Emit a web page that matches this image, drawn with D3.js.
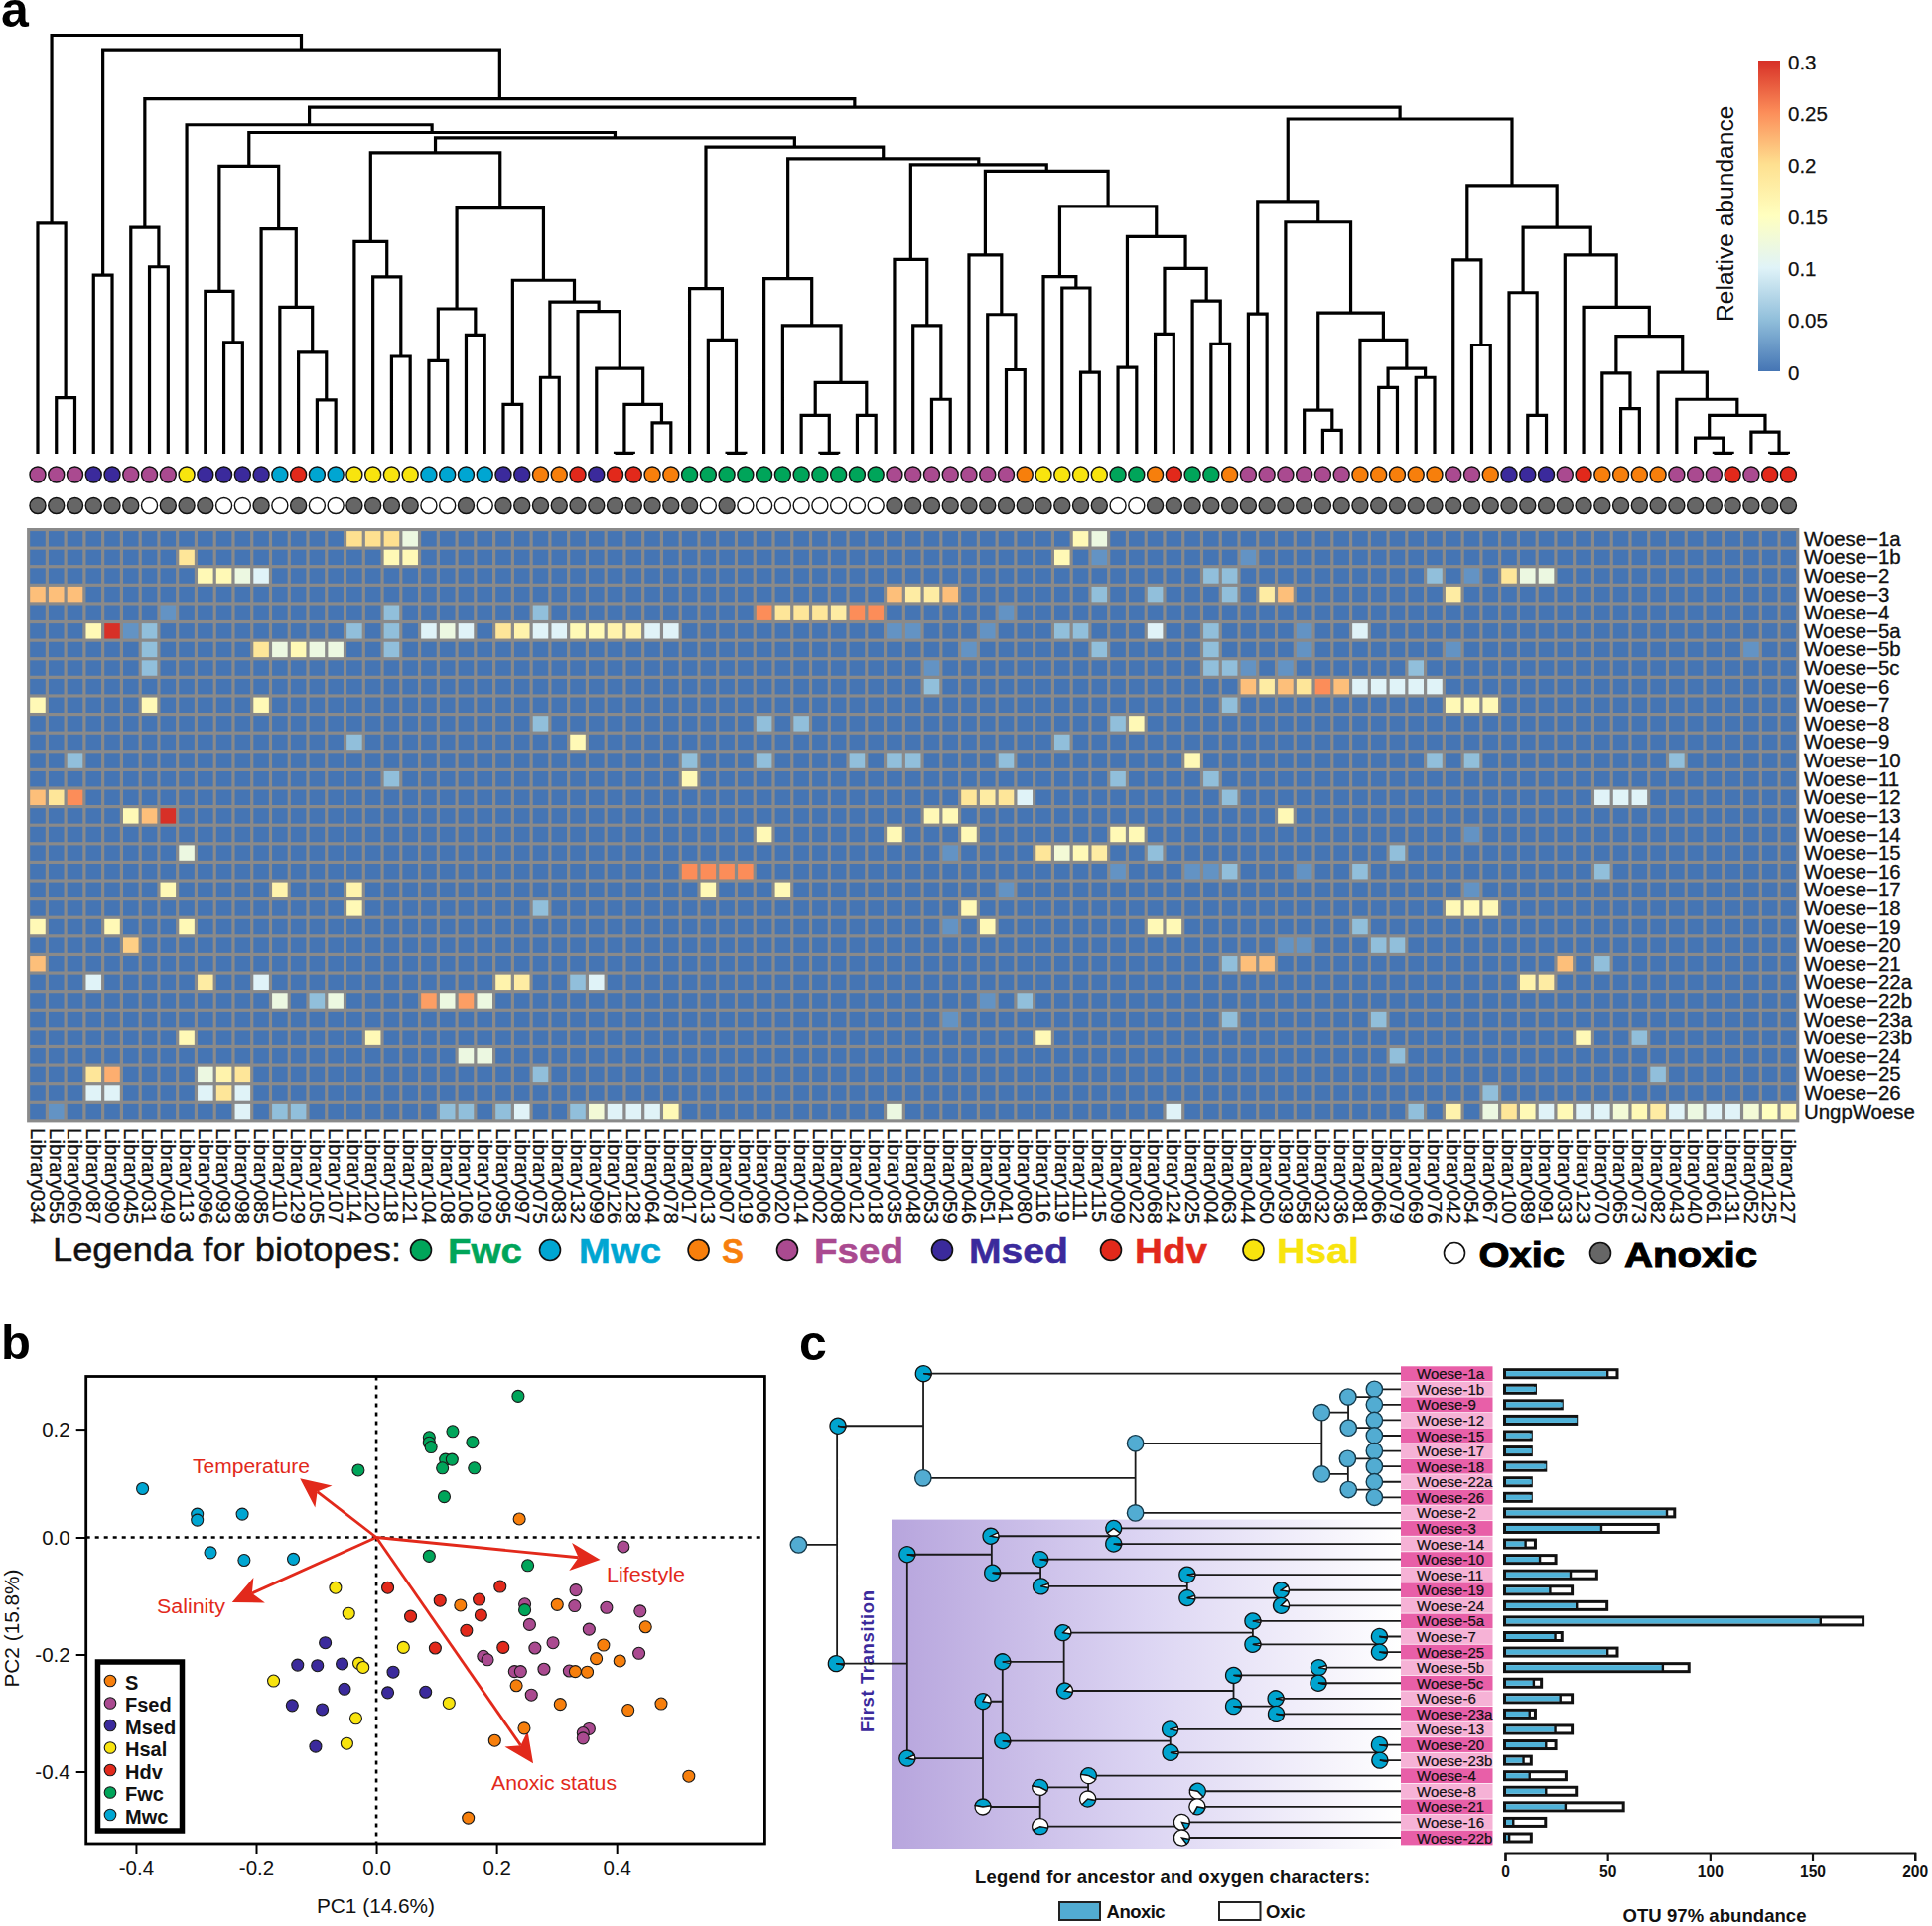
<!DOCTYPE html>
<html><head><meta charset="utf-8">
<script src="https://cdn.jsdelivr.net/npm/d3@7"></script>
<style>html,body{margin:0;padding:0;background:#fff}svg{display:block}text{font-family:"Liberation Sans",Arial,sans-serif}</style>
</head><body><svg id="c" width="1946" height="1940"></svg>
<script>
// ---------- panel a data ----------
const libraries = ["034","055","060","087","090","045","031","049","113","096","093","098","085","110","129","105","107","114","120","118","121","104","108","106","109","095","097","075","083","132","099","126","128","064","078","017","013","007","019","006","020","014","002","008","012","018","035","048","053","059","046","051","041","080","116","119","111","115","009","022","068","124","025","004","063","044","050","039","058","032","036","081","066","079","069","076","042","054","067","100","089","091","033","123","070","065","073","082","043","040","061","131","052","125","127"].map(s=>"Library"+s);
const heatRows = ["1a","1b","2","3","4","5a","5b","5c","6","7","8","9","10","11","12","13","14","15","16","17","18","19","20","21","22a","22b","23a","23b","24","25","26"].map(s=>"Woese\u2212"+s).concat(["UngpWoese"]);
const biotopeCodes = "FFFMMFFFHMMMMWDWWHHHHWWWWMMSSDMDDSSGGGGGGGGGGGFFFFFFFSHHHHGGSDGGSFFFFFFSSSSSFFSMMMFDSSSSFFFDFDD".split("");
const oxicLibraries = [6,10,11,13,15,16,21,22,24,36,38,39,40,41,42,43,44,45,58,59];
// non-background cells per heat row: [library index, relative abundance]
const heatHits = [
 [[17,.2],[18,.2],[19,.2],[20,.12],[56,.16],[57,.12]],
 [[8,.19],[19,.16],[20,.16],[55,.16],[57,.02],[65,.02]],
 [[9,.16],[10,.16],[11,.12],[12,.1],[63,.05],[64,.05],[75,.05],[77,.02],[79,.19],[80,.12],[81,.12]],
 [[0,.22],[1,.22],[2,.22],[46,.22],[47,.18],[48,.18],[49,.22],[57,.05],[60,.05],[64,.05],[66,.18],[67,.22],[76,.18]],
 [[7,.02],[19,.05],[27,.05],[39,.25],[40,.19],[41,.19],[42,.19],[43,.18],[44,.25],[45,.25],[52,.02]],
 [[3,.16],[4,.3],[5,.02],[6,.05],[17,.05],[19,.05],[21,.1],[22,.12],[23,.1],[25,.19],[26,.17],[27,.1],[28,.1],[29,.16],[30,.16],[31,.17],[32,.17],[33,.1],[34,.1],[46,.02],[47,.02],[51,.02],[55,.05],[56,.05],[60,.1],[63,.05],[68,.02],[71,.1]],
 [[6,.05],[12,.19],[13,.12],[14,.16],[15,.12],[16,.12],[19,.05],[50,.02],[57,.05],[63,.05],[68,.02],[76,.02],[92,.02]],
 [[6,.05],[48,.02],[63,.05],[64,.05],[65,.02],[67,.02],[74,.05]],
 [[48,.05],[65,.22],[66,.18],[67,.22],[68,.19],[69,.25],[70,.22],[71,.1],[72,.1],[73,.1],[74,.1],[75,.1]],
 [[0,.16],[6,.16],[12,.16],[64,.05],[76,.16],[77,.16],[78,.16]],
 [[27,.05],[39,.05],[41,.05],[58,.05],[59,.16]],
 [[17,.05],[29,.16],[55,.05]],
 [[2,.05],[35,.05],[39,.05],[44,.05],[46,.05],[47,.05],[52,.05],[62,.16],[75,.05],[77,.05],[88,.05]],
 [[19,.05],[35,.16],[58,.05],[63,.05]],
 [[0,.22],[1,.19],[2,.25],[50,.19],[51,.18],[52,.19],[53,.1],[64,.05],[84,.1],[85,.1],[86,.1]],
 [[5,.16],[6,.22],[7,.3],[48,.16],[49,.16],[67,.16]],
 [[39,.16],[46,.16],[50,.16],[58,.16],[59,.16],[77,.02]],
 [[8,.12],[49,.02],[54,.19],[55,.13],[56,.16],[57,.18],[60,.05],[73,.05]],
 [[35,.25],[36,.25],[37,.25],[38,.25],[58,.02],[62,.02],[63,.02],[64,.05],[68,.02],[71,.05],[84,.05]],
 [[7,.16],[13,.17],[17,.17],[36,.16],[40,.16],[52,.02],[77,.02]],
 [[17,.16],[27,.05],[50,.16],[76,.16],[77,.16],[78,.16]],
 [[0,.16],[4,.16],[8,.16],[49,.02],[51,.16],[60,.16],[61,.16],[71,.05]],
 [[5,.21],[67,.02],[68,.02],[72,.05],[73,.05]],
 [[0,.22],[64,.05],[65,.22],[66,.22],[82,.22],[84,.05]],
 [[3,.1],[9,.18],[12,.1],[25,.17],[26,.18],[29,.05],[30,.1],[80,.17],[81,.18]],
 [[13,.12],[15,.05],[16,.12],[21,.24],[22,.12],[23,.24],[24,.12],[51,.02],[53,.05]],
 [[49,.02],[64,.05],[72,.05]],
 [[8,.16],[18,.16],[54,.16],[83,.16],[86,.05]],
 [[23,.12],[24,.12],[73,.05]],
 [[3,.19],[4,.23],[9,.12],[10,.17],[11,.19],[27,.05],[87,.05]],
 [[3,.1],[4,.1],[9,.1],[10,.19],[11,.1],[78,.05]],
 [[1,.02],[11,.1],[13,.05],[14,.05],[22,.05],[23,.05],[25,.05],[26,.1],[29,.05],[30,.13],[31,.1],[32,.1],[33,.1],[34,.16],[46,.12],[61,.1],[74,.05],[76,.17],[78,.12],[79,.19],[80,.16],[81,.1],[82,.16],[83,.1],[84,.1],[85,.13],[86,.16],[87,.18],[88,.1],[89,.12],[90,.1],[91,.1],[92,.13],[93,.15],[94,.16]]
];
const colorTicks = [0,.05,.1,.15,.2,.25,.3];
const colorRamp  = ["#4575b4","#91bfdb","#e0f3f8","#ffffbf","#fee090","#fc8d59","#d73027"];
// dendrogram: [merge height, left, right]; integers are library indices
const dendroLeftA = [687,0,[167,1,2]];
const dendroD = [857,[484,9,[332,10,11]],[670,12,[437,13,[302,14,[160,15,16]]]]];
const dendroE = [897,[632,17,[527,18,[290,19,20]]],[732,[432,[277,21,22],[354,23,24]],[517,[147,25,26],[452,[227,27,28],[424,29,[254,30,[147,[2,31,32],[92,33,34]]]]]]]];
const dendroF = [914,[492,35,[339,36,[2,37,38]]],[879,[522,39,[382,40,[212,[114,41,[2,42,43]],[114,44,45]]]],[861,[579,46,[382,47,[162,48,49]]],[842,[592,50,[415,51,[250,52,53]]],[737,[528,54,[494,55,[242,56,57]]],[647,[257,58,59],[552,[357,60,61],[455,62,[327,63,64]]]]]]]]];
const dendroJ = [997,[752,[417,65,66],[690,67,[420,[130,68,[70,69,70]],[339,71,[254,[197,72,73],[227,74,75]]]]]],[799,[577,76,[324,77,78]],[674,[480,79,[114,80,81]],[592,82,[437,83,[350,[240,84,[134,85,86]],[242,87,[162,88,[114,[47,89,[2,90,91]],[65,92,[2,93,94]]]]]]]]]]];
const dendroRoot = [1247,dendroLeftA,[1204,[532,3,4],[1057,[674,5,[557,6,7]],[1032,[980,8,[957,dendroD,[941,dendroE,dendroF]]],dendroJ]]]];
const biotopeColor = {G:"#00a55a",W:"#00a6d2",S:"#f77f0c",F:"#aa4a90",M:"#3b2a9c",D:"#e2291b",H:"#f8e40e"};
const biotopeLegend = [["G","Fwc"],["W","Mwc"],["S","S"],["F","Fsed"],["M","Msed"],["D","Hdv"],["H","Hsal"]];

// ---------- panel b data: [PC1, PC2] ----------
const pcaFwc = [[.236,.261],[.127,.196],[.088,.185],[.088,.175],[.091,.167],[.16,.176],[.115,.144],[.126,.144],[.11,.128],[.163,.128],[.113,.075],[-.03,.124],[.088,-.032],[.252,-.048],[.247,-.124]];
const pcaMwc = [[-.389,.09],[-.298,.043],[-.298,.032],[-.223,.043],[-.276,-.026],[-.22,-.039],[-.138,-.037]];
const pcaS = [[.238,.034],[.14,-.116],[.301,-.115],[.448,-.153],[.378,-.184],[.366,-.207],[.405,-.211],[.331,-.229],[.351,-.23],[.233,-.253],[.306,-.285],[.419,-.295],[.474,-.284],[.246,-.326],[.197,-.347],[.52,-.408],[.153,-.479]];
const pcaFsed = [[.411,-.016],[.332,-.09],[.247,-.114],[.33,-.117],[.383,-.12],[.439,-.126],[.255,-.149],[.354,-.157],[.294,-.18],[.264,-.189],[.437,-.198],[.178,-.203],[.185,-.209],[.23,-.229],[.24,-.229],[.279,-.225],[.321,-.228],[.258,-.269],[.354,-.327],[.344,-.334],[.344,-.343]];
const pcaMsed = [[-.085,-.18],[-.131,-.218],[-.098,-.219],[-.057,-.216],[.028,-.23],[-.053,-.259],[.019,-.265],[.082,-.264],[-.14,-.287],[-.09,-.294],[-.101,-.357]];
const pcaHsal = [[-.068,-.086],[-.046,-.13],[.045,-.188],[-.029,-.215],[-.022,-.222],[-.171,-.245],[.121,-.283],[-.034,-.309],[-.049,-.352]];
const pcaHdv = [[.019,-.086],[.106,-.108],[.206,-.084],[.171,-.106],[.057,-.135],[.174,-.133],[.15,-.159],[.098,-.189],[.211,-.188]];
const pcaSeries = [["F",pcaFsed],["S",pcaS],["M",pcaMsed],["H",pcaHsal],["D",pcaHdv],["G",pcaFwc],["W",pcaMwc]];
const pcaLegend = [["S","S"],["F","Fsed"],["M","Msed"],["H","Hsal"],["D","Hdv"],["G","Fwc"],["W","Mwc"]];
const loadings = [["Temperature",-.127,.109],["Lifestyle",.3725,-.038],["Salinity",-.24,-.111],["Anoxic status",.261,-.386]];
const xTicksB = [-.4,-.2,0,.2,.4], yTicksB = [-.4,-.2,0,.2];

// ---------- panel c data ----------
const treeRows = ["1a","1b","9","12","15","17","18","22a","26","2","3","14","10","11","19","24","5a","7","25","5b","5c","6","23a","13","20","23b","4","8","21","16","22b"].map(s=>"Woese-"+s);
const otuAnoxic = [50,15,28,35,13,13,20,13,13,79,47,10,17,32,22,35,154,24.5,50,77,14,27,12,24.5,20,9,12,20,29.5,4,2];
const otuTotal  = [55,15,28,35,13,13,20,13,13,83,75,15,25,45,33,50,175,28,55,90,18,33,15,33,25,13,30,35,58,20,13];
const otuTicks = [0,50,100,150,200];
// tree node: [depth, anoxic share, tip row or [children], pie start deg, position along the children]
const treeUpper = [152,.99,[[357,.98,0],[356,1,[[864,1,[[1310,1,[[1373,1,[[1436,1,1],[1436,1,2]]],[1374,1,[[1436,1,3],[1436,1,4]]]]],[1310,1,[[1372,1,[[1436,1,5],[1436,1,6]]],[1374,1,[[1436,1,7],[1436,1,8]]]]]]],[864,1,9]]]]];
const treeLowerA = [318,.98,[[518,.9,[[812,.7,10,234],[812,.97,11]]],[522,.97,[[636,.97,12],[638,.92,[[988,.95,13],[988,.93,[[1213,.88,14],[1213,.85,15]]]]]]]]];
const treeLowerB = [318,.9,[[499,.8,[[546,.96,[[691,.85,[[1145,.95,16],[1145,.95,[[1448,.98,17],[1448,.98,18]]]]],[695,.85,[[1099,.97,[[1303,.93,19],[1302,.97,20]]],[1099,.98,[[1200,.95,21],[1201,.98,22]]]]]]],[546,.97,[[947,.93,23],[948,.95,[[1448,.98,24],[1449,.98,25]]]]]]],[499,.45,[[636,.55,[[752,.55,26,-80],[750,.35,[[1013,.6,27,-80],[1012,.3,28]]]],-80],[636,.4,[[975,.15,29],[975,.12,30]],100,.27]],-80]],100,.54];
const treeRoot = [58,1,[treeUpper,[148,.98,[treeLowerA,treeLowerB],100,.535]]];

// ---------- drawing ----------
const svg = d3.select("#c");
const defs = svg.append("defs");
function txt(x,y,s,o={}){
  const t = svg.append("text").attr("x",x).attr("y",y).text(s)
    .attr("font-size",o.size||20).attr("fill",o.fill||"#000").attr("font-weight",o.bold?"bold":"normal")
    .attr("text-anchor",o.anchor||"start");
  if(o.len) t.attr("textLength",o.len).attr("lengthAdjust",o.adjust||"spacing");
  if(o.rot) t.attr("transform",`rotate(${o.rot} ${x} ${y})`);
  if(o.stroke) t.attr("stroke",o.stroke===true?(o.fill||"#000"):o.stroke).attr("stroke-width",o.sw||.6);
  return t;
}
// panel letters
txt(1,27,"a",{size:50,bold:true});
txt(1,1369,"b",{size:49,bold:true});
txt(805,1370,"c",{size:50,bold:true});

// ---- heatmap ----
const xH = d3.scaleBand().domain(libraries).range([28.6,1810.8]);
const yH = d3.scaleBand().domain(heatRows).range([533.5,1128.9]);
const colorH = d3.scaleLinear().domain(colorTicks).range(colorRamp).clamp(true);
const gridG = svg.append("g");
gridG.append("rect").attr("x",xH.range()[0]-1.5).attr("y",yH.range()[0]-1.5)
  .attr("width",xH.range()[1]-xH.range()[0]+3).attr("height",yH.range()[1]-yH.range()[0]+3).attr("fill","#8a8a8a");
const heatCells = heatRows.flatMap((r,j)=>{
  const hit = new Map(heatHits[j]);
  return libraries.map((l,i)=>({r,l,v:hit.get(i)||0}));
});
gridG.selectAll(".cell").data(heatCells).join("rect").attr("class","cell")
  .attr("x",d=>xH(d.l)+1.6).attr("y",d=>yH(d.r)+1.6)
  .attr("width",xH.bandwidth()-3.2).attr("height",yH.bandwidth()-3.2)
  .attr("fill",d=>colorH(d.v));
heatRows.forEach(r=>txt(1817,yH(r)+yH.bandwidth()/2+7,r,{size:20.4,fill:"#111",stroke:true,sw:.35}));
libraries.forEach(l=>{
  const x = xH(l)+xH.bandwidth()/2-7.2;
  txt(x,1136,l,{size:20.5,rot:90,fill:"#111",stroke:true,sw:.3});
});

// ---- dendrogram ----
const yD = d3.scaleLinear().domain([0,1247]).range([457,35.5]);
const leafX = i=>xH(libraries[i])+xH.bandwidth()/2;
const dPath = d3.path();
function walk(n){
  if(typeof n==="number") return {x:leafX(n),h:0};
  const a=walk(n[1]), b=walk(n[2]), h=n[0];
  dPath.moveTo(a.x,yD(a.h)); dPath.lineTo(a.x,yD(h)); dPath.lineTo(b.x,yD(h)); dPath.lineTo(b.x,yD(b.h));
  return {x:(a.x+b.x)/2,h};
}
walk(dendroRoot);
svg.append("path").attr("d",dPath.toString()).attr("fill","none").attr("stroke","#000").attr("stroke-width",3.2).attr("stroke-linejoin","miter");

// ---- annotation dots ----
const dotG = svg.append("g").attr("stroke","#111").attr("stroke-width",1.4);
dotG.selectAll(".b").data(biotopeCodes).join("circle").attr("class","b")
  .attr("cx",(d,i)=>leafX(i)).attr("cy",478).attr("r",8).attr("fill",d=>biotopeColor[d]);
dotG.selectAll(".o").data(libraries).join("circle").attr("class","o")
  .attr("cx",(d,i)=>leafX(i)).attr("cy",509.5).attr("r",8).attr("fill",(d,i)=>oxicLibraries.includes(i)?"#ffffff":"#666666");

// ---- colour bar ----
const yC = d3.scaleLinear().domain([0,.3]).range([374,61]);
const gradC = defs.append("linearGradient").attr("id","cb").attr("x1",0).attr("x2",0).attr("y1",1).attr("y2",0);
colorTicks.forEach((t,i)=>gradC.append("stop").attr("offset",t/.3).attr("stop-color",colorRamp[i]));
svg.append("rect").attr("x",1771).attr("y",61).attr("width",22).attr("height",313).attr("fill","url(#cb)");
const axC = svg.append("g").attr("transform","translate(1793,1.5)")
  .call(d3.axisRight(yC).tickValues(colorTicks).tickSize(0).tickPadding(8).tickFormat(d=>String(d)));
axC.select(".domain").remove();
axC.selectAll("text").attr("font-size",20.5).attr("fill","#111").attr("font-family","Liberation Sans").attr("stroke","#111").attr("stroke-width",.25);
txt(1746,324,"Relative abundance",{size:24.6,rot:-90,fill:"#111"});

// ---- biotope legend ----
const legendY = 1259;
txt(53,1270,"Legenda for biotopes:",{size:33,len:351,adjust:"spacingAndGlyphs",fill:"#111",stroke:true,sw:.4});
const legendBoxes = {G:[424,451,75],W:[554,583,83],S:[703.6,727,22],F:[793,820,90],M:[949,976,100],D:[1119,1143,73],H:[1262.5,1286,83]};
biotopeLegend.forEach(([k,name])=>{
  const [cx,tx,len]=legendBoxes[k];
  svg.append("circle").attr("cx",cx).attr("cy",legendY).attr("r",10.5).attr("fill",biotopeColor[k]).attr("stroke","#111").attr("stroke-width",1.6);
  txt(tx,1272,name,{size:35,bold:true,fill:biotopeColor[k],len,adjust:"spacingAndGlyphs",stroke:true,sw:.5});
});
svg.append("circle").attr("cx",1465).attr("cy",1262).attr("r",10.5).attr("fill","#fff").attr("stroke","#111").attr("stroke-width",1.6);
txt(1489.5,1276,"Oxic",{size:35,bold:true,len:86.5,adjust:"spacingAndGlyphs",stroke:true,sw:1});
svg.append("circle").attr("cx",1612).attr("cy",1262).attr("r",10.5).attr("fill","#666").attr("stroke","#111").attr("stroke-width",1.6);
txt(1636,1276,"Anoxic",{size:35,bold:true,len:134,adjust:"spacingAndGlyphs",stroke:true,sw:1});

// ---- panel b ----
const xB = d3.scaleLinear().domain([-.483,.6465]).range([86.7,770.4]);
const yB = d3.scaleLinear().domain([-.4,0,.2]).range([1784.5,1548.5,1439.6]);
const yTop=1386.5, yBot=1857;
const dashG = svg.append("g").attr("stroke","#000").attr("stroke-width",2.6).attr("stroke-dasharray","4 5");
dashG.append("line").attr("x1",86.7).attr("x2",770.4).attr("y1",yB(0)).attr("y2",yB(0));
dashG.append("line").attr("x1",xB(0)).attr("x2",xB(0)).attr("y1",yTop).attr("y2",yBot);
svg.append("rect").attr("x",86.7).attr("y",yTop).attr("width",683.7).attr("height",yBot-yTop).attr("fill","none").attr("stroke","#000").attr("stroke-width",2.8);
const fmtB = d=>d3.format(".1f")(d).replace("\u2212","-");
const axBx = svg.append("g").attr("transform",`translate(0,${yBot})`)
  .call(d3.axisBottom(xB).tickValues(xTicksB).tickSize(10).tickPadding(7).tickFormat(fmtB));
const axBy = svg.append("g").attr("transform","translate(86.7,0)")
  .call(d3.axisLeft(yB).tickValues(yTicksB).tickSize(10).tickPadding(6).tickFormat(fmtB));
[axBx,axBy].forEach(a=>{a.select(".domain").remove();a.selectAll("line").attr("stroke","#000").attr("stroke-width",2);
  a.selectAll("text").attr("font-size",20.5).attr("fill","#111").attr("font-family","Liberation Sans");});
txt(378.5,1927,"PC1 (14.6%)",{size:20.8,anchor:"middle",fill:"#111"});
txt(19,1640,"PC2 (15.8%)",{size:20.8,anchor:"middle",rot:-90,fill:"#111"});
const redC = "#e2291b";
loadings.forEach(([name,px,py])=>{
  const x0=xB(0),y0=yB(0),x1=xB(px),y1=yB(py);
  const L=Math.hypot(x1-x0,y1-y0),ux=(x1-x0)/L,uy=(y1-y0)/L,nx=-uy,ny=ux;
  const hl=30,hw=14,notch=22;
  svg.append("line").attr("x1",x0).attr("y1",y0).attr("x2",x1-ux*notch).attr("y2",y1-uy*notch).attr("stroke",redC).attr("stroke-width",2.8);
  const p=d3.path();
  p.moveTo(x1,y1);
  p.lineTo(x1-ux*hl+nx*hw,y1-uy*hl+ny*hw);
  p.lineTo(x1-ux*notch,y1-uy*notch);
  p.lineTo(x1-ux*hl-nx*hw,y1-uy*hl-ny*hw);
  p.closePath();
  svg.append("path").attr("d",p.toString()).attr("fill",redC);
});
const loadLabels = {"Temperature":[194,1484,118],"Lifestyle":[611,1593,79],"Salinity":[158,1625,69],"Anoxic status":[495,1803,126]};
Object.entries(loadLabels).forEach(([s,[x,y,len]])=>txt(x,y,s,{size:19.5,fill:redC,len,adjust:"spacingAndGlyphs"}));
const ptG = svg.append("g").attr("stroke","#1a1a1a").attr("stroke-width",1.1);
pcaSeries.forEach(([k,pts])=>{
  ptG.append("g").selectAll("circle").data(pts).join("circle")
    .attr("cx",d=>xB(d[0])).attr("cy",d=>yB(d[1])).attr("r",6).attr("fill",biotopeColor[k]);
});
svg.append("rect").attr("x",98.5).attr("y",1674).attr("width",85).attr("height",170).attr("fill","#fff").attr("stroke","#000").attr("stroke-width",5.5);
const yLegB = d3.scalePoint().domain(pcaLegend.map(d=>d[1])).range([1693,1828]);
pcaLegend.forEach(([k,name])=>{
  svg.append("circle").attr("cx",111).attr("cy",yLegB(name)).attr("r",5.8).attr("fill",biotopeColor[k]).attr("stroke","#1a1a1a").attr("stroke-width",1.1);
  txt(126,yLegB(name)+8.5,name,{size:20,bold:true,fill:"#111"});
});

// ---- panel c ----
const xT = d3.scaleLinear().domain([0,1500]).range([780,1411.3]);
const yT = d3.scaleLinear().domain([0,30]).range([1383.7,1851]);
const gradT = defs.append("linearGradient").attr("id","pur");
gradT.append("stop").attr("offset",0).attr("stop-color","#b7a5dd");
gradT.append("stop").attr("offset",.5).attr("stop-color","#dcd5f3");
gradT.append("stop").attr("offset",1).attr("stop-color","#ffffff");
svg.append("rect").attr("x",898).attr("y",1530.6).attr("width",513).attr("height",331.4).attr("fill","url(#pur)");
txt(880,1745,"First Transition",{size:18.5,bold:true,fill:"#3b2a9c",rot:-90,len:143});

const treePath = d3.path(), pies=[];
function layT(n){
  const [depth,share,kids,start,at]=n;
  const node={x:xT(depth),share,start:start===undefined?100:start};
  if(typeof kids==="number"){
    node.y=yT(kids);
    treePath.moveTo(node.x,node.y);treePath.lineTo(xT(1500),node.y);
  } else {
    const cs=kids.map(layT), t=at===undefined?.5:at;
    node.y=cs[0].y+(cs[1].y-cs[0].y)*t;
    const vx=(cs[0].x+cs[1].x)/2;
    treePath.moveTo(node.x,node.y);treePath.lineTo(vx,node.y);
    treePath.moveTo(vx,cs[0].y);treePath.lineTo(vx,cs[1].y);
  }
  pies.push(node);
  return node;
}
layT(treeRoot);
svg.append("path").attr("d",treePath.toString()).attr("fill","none").attr("stroke","#1a1a1a").attr("stroke-width",1.8);
const arcT = d3.arc().innerRadius(0).outerRadius(8);
const pieG = svg.append("g");
pies.forEach(p=>{
  if(p.share>=1){
    pieG.append("circle").attr("cx",p.x).attr("cy",p.y).attr("r",8.2).attr("fill","#52acd2").attr("stroke","#15394a").attr("stroke-width",1.4);
  } else {
    const a0=p.start*Math.PI/180;
    const slices=d3.pie().sort(null).startAngle(a0).endAngle(a0+2*Math.PI)([p.share,1-p.share]);
    pieG.append("g").attr("transform",`translate(${p.x},${p.y})`).selectAll("path").data(slices).join("path")
      .attr("d",arcT).attr("fill",(d,i)=>i===0?"#00a4cf":"#fff").attr("stroke","#111").attr("stroke-width",1.3);
  }
});
// labels and bars
const yRow = n=>yT(treeRows.indexOf(n));
svg.append("g").selectAll("rect").data(treeRows).join("rect")
  .attr("x",1411).attr("y",d=>yRow(d)-7.4).attr("width",92.5).attr("height",14.8)
  .attr("fill",(d,i)=>i%2?"#f6b2d6":"#e85fa8");
treeRows.forEach(n=>txt(1427,yRow(n)+5.5,n,{size:15,fill:"#111",stroke:true,sw:.2}));
const xO = d3.scaleLinear().domain([0,200]).range([1516,1928.7]);
const barG = svg.append("g");
treeRows.forEach((n,i)=>{
  const y=yRow(n);
  barG.append("rect").attr("x",xO(0)-.5).attr("y",y-4).attr("width",xO(otuTotal[i])-xO(0)).attr("height",8).attr("fill","#fff").attr("stroke","#111").attr("stroke-width",3);
  barG.append("rect").attr("x",xO(0)+1).attr("y",y-2.5).attr("width",Math.max(0,xO(otuAnoxic[i])-xO(0)-1)).attr("height",5).attr("fill","#4fb2d8");
  if(otuAnoxic[i]<otuTotal[i]) barG.append("line").attr("x1",xO(otuAnoxic[i])).attr("x2",xO(otuAnoxic[i])).attr("y1",y-4).attr("y2",y+4).attr("stroke","#111").attr("stroke-width",2.4);
});
const axO = svg.append("g").attr("transform","translate(0,1866)")
  .call(d3.axisBottom(xO).tickValues(otuTicks).tickSize(9).tickPadding(5).tickFormat(d3.format("d")));
axO.select(".domain").attr("stroke","#111").attr("stroke-width",2.2);
axO.selectAll("line").attr("stroke","#111").attr("stroke-width",2.2);
axO.selectAll("text").attr("font-size",15.6).attr("font-weight","bold").attr("fill","#111").attr("font-family","Liberation Sans");
txt(1634.5,1936,"OTU 97% abundance",{size:18.5,bold:true,len:185,fill:"#111"});
// legend c
txt(982,1897,"Legend for ancestor and oxygen characters:",{size:18.4,bold:true,len:398,fill:"#111"});
svg.append("rect").attr("x",1067).attr("y",1916).attr("width",41).attr("height",18).attr("fill","#52acd2").attr("stroke","#222").attr("stroke-width",2);
txt(1114.6,1931.5,"Anoxic",{size:18.5,bold:true,len:59,fill:"#111"});
svg.append("rect").attr("x",1228).attr("y",1916).attr("width",41.5).attr("height",18).attr("fill","#fff").attr("stroke","#222").attr("stroke-width",2);
txt(1275,1931.5,"Oxic",{size:18.5,bold:true,len:39.5,fill:"#111"});
</script></body></html>
